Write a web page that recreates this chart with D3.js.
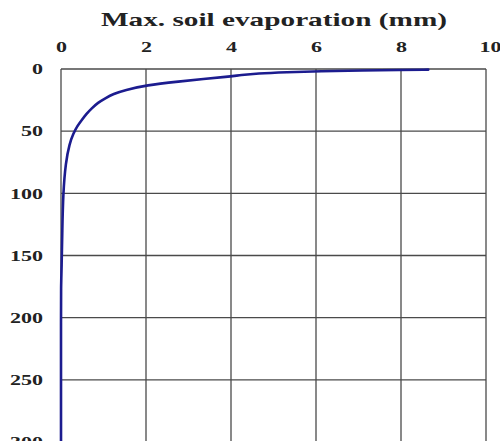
<!DOCTYPE html>
<html><head><meta charset="utf-8">
<script src="https://cdn.jsdelivr.net/npm/d3@7"></script>
<style>body{margin:0;background:#fff;}svg{display:block;}</style>
</head><body>
<script>
const titleText = "Max. soil evaporation (mm)";
const xTicks = [0, 2, 4, 6, 8, 10];
const yTicks = [0, 50, 100, 150, 200, 250, 300];
const depth = [0.5, 0.8, 1.2, 1.8, 2.6, 3.6, 4.8, 6.3, 8, 10, 13, 17, 20, 23.6, 27, 31.7, 36, 41, 46, 52, 60, 75, 100, 130, 160, 175, 200, 250, 300];
const evap  = [8.64, 8.0, 7.1, 6.1, 5.3, 4.6, 4.25, 3.9, 3.35, 2.8, 2.0, 1.5, 1.23, 1.04, 0.87, 0.72, 0.6, 0.49, 0.38, 0.29, 0.2, 0.11, 0.05, 0.03, 0.015, 0, 0, 0, 0];

const W = 500, H = 441;
const svg = d3.select("body").append("svg").attr("width", W).attr("height", H);
const x = d3.scaleLinear().domain([0, 10]).range([61, 486]);
const y = d3.scaleLinear().domain([0, 300]).range([69, 442]);
const font = "'Liberation Serif', 'Times New Roman', serif";

// grid
const grid = svg.append("g").attr("stroke", "#4a4a4a").attr("stroke-width", 1.3);
xTicks.forEach(t => grid.append("line").attr("x1", x(t)).attr("x2", x(t)).attr("y1", y(0)).attr("y2", y(300)));
yTicks.forEach(t => grid.append("line").attr("x1", x(0)).attr("x2", x(10)).attr("y1", y(t)).attr("y2", y(t)));

function styleTicks(sel) {
  sel.selectAll("text")
    .attr("font-family", font).attr("font-weight", "bold").attr("font-size", 15).attr("fill", "#222")
    .each(function(d) {
      const n = String(d).length;
      d3.select(this).attr("textLength", 11 * n).attr("lengthAdjust", "spacingAndGlyphs");
    });
}

const xAxis = svg.append("g").attr("transform", `translate(0,${y(0)})`)
  .call(d3.axisTop(x).tickValues(xTicks).tickSize(0).tickPadding(17).tickFormat(d3.format("d")));
xAxis.select(".domain").remove();
styleTicks(xAxis);
xAxis.selectAll("text").filter(d => d === 10).attr("dx", 4);

const yAxis = svg.append("g").attr("transform", `translate(${x(0)},0)`)
  .call(d3.axisLeft(y).tickValues(yTicks).tickSize(0).tickPadding(18).tickFormat(d3.format("d")));
yAxis.select(".domain").remove();
styleTicks(yAxis);

// curve
const pts = depth.map((d, i) => [evap[i], d]);
svg.append("path").datum(pts)
  .attr("fill", "none").attr("stroke", "#1c1c8f").attr("stroke-width", 2.6)
  .attr("stroke-linejoin", "round").attr("stroke-linecap", "round")
  .attr("d", d3.line().x(d => x(d[0])).y(d => y(d[1])).curve(d3.curveBasis));

// title
svg.append("text").attr("x", 274).attr("y", 26).attr("text-anchor", "middle")
  .attr("font-family", font).attr("font-weight", "bold").attr("font-size", 19)
  .attr("textLength", 346).attr("lengthAdjust", "spacingAndGlyphs")
  .attr("fill", "#222").text(titleText);
</script>
</body></html>
